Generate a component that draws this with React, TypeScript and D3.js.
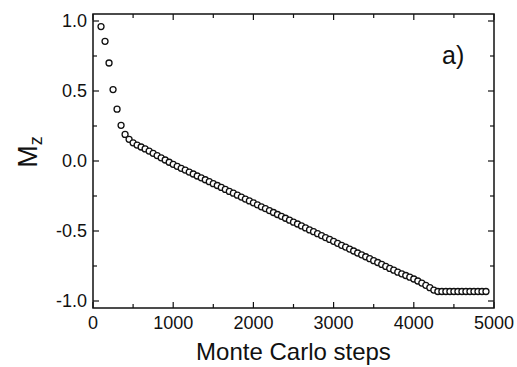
import React, { useEffect, useRef } from "react";
import * as d3 from "d3";

// Monte Carlo steps (x) and magnetisation M_z (y)
const steps = [
  100, 150, 200, 250, 300, 350, 400, 450, 500, 550,
  600, 650, 700, 750, 800, 850, 900, 950, 1000, 1050,
  1100, 1150, 1200, 1250, 1300, 1350, 1400, 1450, 1500, 1550,
  1600, 1650, 1700, 1750, 1800, 1850, 1900, 1950, 2000, 2050,
  2100, 2150, 2200, 2250, 2300, 2350, 2400, 2450, 2500, 2550,
  2600, 2650, 2700, 2750, 2800, 2850, 2900, 2950, 3000, 3050,
  3100, 3150, 3200, 3250, 3300, 3350, 3400, 3450, 3500, 3550,
  3600, 3650, 3700, 3750, 3800, 3850, 3900, 3950, 4000, 4050,
  4100, 4150, 4200, 4250, 4300, 4350, 4400, 4450, 4500, 4550,
  4600, 4650, 4700, 4750, 4800, 4850, 4900,
];
const mz = [
  0.96, 0.855, 0.70, 0.51, 0.37, 0.255, 0.19, 0.155, 0.13, 0.114,
  0.10, 0.086, 0.071, 0.055, 0.039, 0.023, 0.007, -0.009, -0.024, -0.038,
  -0.052, -0.065, -0.079, -0.093, -0.107, -0.12, -0.134, -0.148, -0.162, -0.175,
  -0.189, -0.203, -0.217, -0.23, -0.244, -0.258, -0.272, -0.285, -0.299, -0.313,
  -0.327, -0.34, -0.354, -0.368, -0.382, -0.395, -0.409, -0.423, -0.437, -0.45,
  -0.464, -0.478, -0.492, -0.505, -0.519, -0.533, -0.547, -0.56, -0.574, -0.588,
  -0.602, -0.615, -0.629, -0.643, -0.657, -0.67, -0.684, -0.698, -0.712, -0.725,
  -0.739, -0.753, -0.767, -0.78, -0.794, -0.806, -0.818, -0.83, -0.843, -0.857,
  -0.872, -0.888, -0.905, -0.922, -0.932, -0.932, -0.932, -0.932, -0.932, -0.932,
  -0.932, -0.932, -0.932, -0.932, -0.932, -0.932, -0.932,
];
const xMajor = [0, 1000, 2000, 3000, 4000, 5000];
const xMinor = [500, 1500, 2500, 3500, 4500];
const yMajor = [-1.0, -0.5, 0.0, 0.5, 1.0];
const yMinor = [-0.75, -0.25, 0.25, 0.75];

const FONT = "'Liberation Sans', Arial, Helvetica, sans-serif";

const App = () => {
  const ref = useRef<SVGSVGElement>(null);

  useEffect(() => {
    const width = 517;
    const height = 367;
    const left = 93, right = 494, top = 14, bottom = 308;

    const x = d3.scaleLinear().domain([0, 5000]).range([left, right]);
    const y = d3.scaleLinear().domain([-1.05, 1.05]).range([bottom, top]);

    const svg = d3.select(ref.current)
        .attr("width", width)
        .attr("height", height)
        .style("position", "absolute")
        .style("left", "0px")
        .style("top", "0px")
        .style("background", "#fff")
        .style("font-family", FONT);
    svg.selectAll("*").remove();

    const ink = "#111";

    // frame
    svg.append("rect")
        .attr("x", left).attr("y", top)
        .attr("width", right - left).attr("height", bottom - top)
        .attr("fill", "none").attr("stroke", ink).attr("stroke-width", 1.5);

    // inward ticks on all four sides
    const tickG = svg.append("g").attr("stroke", ink).attr("stroke-width", 1.2);
    const xt = [...xMajor.map(v => ({ v, l: 6 })), ...xMinor.map(v => ({ v, l: 4 }))];
    const yt = [...yMajor.map(v => ({ v, l: 6 })), ...yMinor.map(v => ({ v, l: 4 }))];

    tickG.selectAll(".xb").data(xt).join("line")
        .attr("x1", d => x(d.v)).attr("x2", d => x(d.v))
        .attr("y1", bottom).attr("y2", d => bottom - d.l);
    tickG.selectAll(".xt").data(xt).join("line")
        .attr("x1", d => x(d.v)).attr("x2", d => x(d.v))
        .attr("y1", top).attr("y2", d => top + d.l);
    tickG.selectAll(".yl").data(yt).join("line")
        .attr("y1", d => y(d.v)).attr("y2", d => y(d.v))
        .attr("x1", left).attr("x2", d => left + d.l);
    tickG.selectAll(".yr").data(yt).join("line")
        .attr("y1", d => y(d.v)).attr("y2", d => y(d.v))
        .attr("x1", right).attr("x2", d => right - d.l);

    // tick labels
    svg.append("g")
      .selectAll("text")
      .data(xMajor)
      .join("text")
        .attr("x", d => x(d))
        .attr("y", bottom + 21)
        .attr("text-anchor", "middle")
        .attr("font-size", 18)
        .attr("fill", ink)
        .text(d => d3.format("d")(d));

    svg.append("g")
      .selectAll("text")
      .data(yMajor)
      .join("text")
        .attr("x", left - 6)
        .attr("y", d => y(d))
        .attr("dy", "0.36em")
        .attr("text-anchor", "end")
        .attr("font-size", 18)
        .attr("fill", ink)
        .text(d => d3.format(".1f")(d).replace("\u2212", "-"));

    // axis titles
    svg.append("text")
        .attr("x", (left + right) / 2)
        .attr("y", 360)
        .attr("text-anchor", "middle")
        .attr("font-size", 24)
        .attr("fill", ink)
        .text("Monte Carlo steps");

    const yl = svg.append("text")
        .attr("transform", "translate(37,152) rotate(-90)")
        .attr("text-anchor", "middle")
        .attr("font-size", 27)
        .attr("fill", ink);
    yl.append("tspan").text("M");
    yl.append("tspan").attr("font-size", 18).attr("dy", 5).text("z");

    // panel label
    svg.append("text")
        .attr("x", 442)
        .attr("y", 64)
        .attr("font-size", 25)
        .attr("fill", ink)
        .text("a)");

    // data points
    svg.append("g")
        .attr("fill", "#fff")
        .attr("stroke", ink)
        .attr("stroke-width", 1.3)
      .selectAll("circle")
      .data(steps.map((s, i) => [s, mz[i]]))
      .join("circle")
        .attr("cx", d => x(d[0]))
        .attr("cy", d => y(d[1]))
        .attr("r", 3);
  }, []);

  return <svg ref={ref}></svg>;
};

export default App;
